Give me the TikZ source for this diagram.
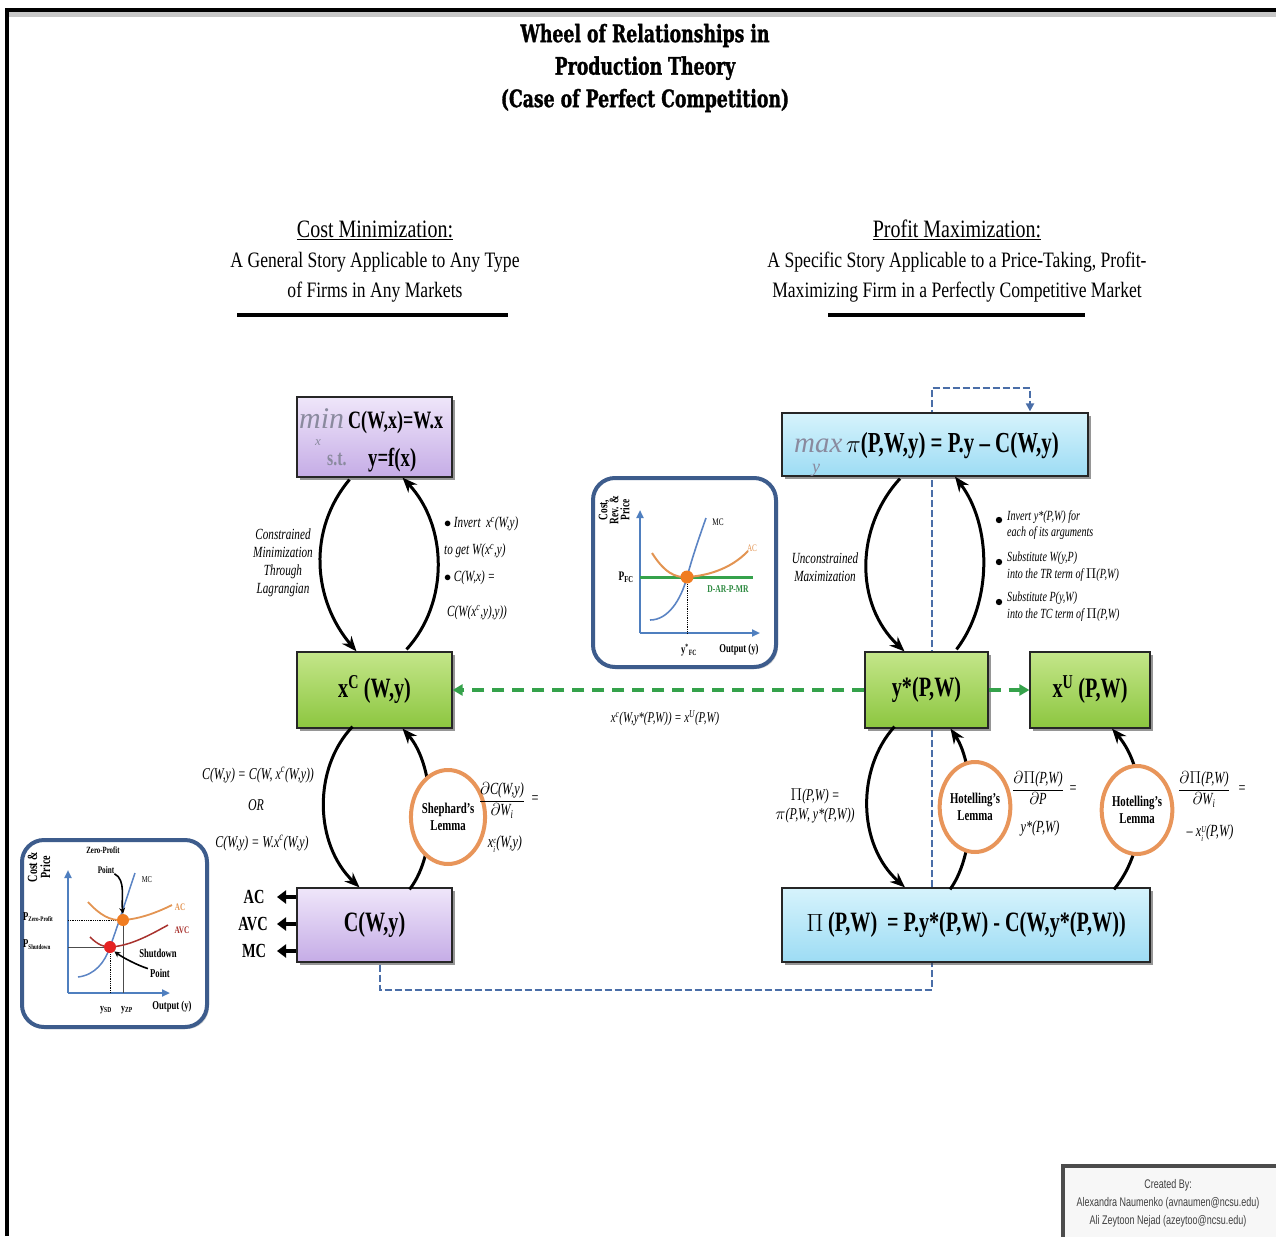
\documentclass[tikz,border=0pt]{standalone}
\usepackage{fontspec}
\setmainfont[FakeStretch=0.72]{Liberation Serif}
\newfontfamily\hdrfont[FakeStretch=0.8]{Liberation Serif}
\newfontfamily\opfont{Liberation Serif}
\newfontfamily\ttlfont[FakeStretch=0.72,FakeBold=1.2]{DejaVu Serif}
\newfontfamily\credfont[FakeStretch=0.72]{Liberation Sans}
\usetikzlibrary{arrows.meta,shapes.geometric,shadows,calc}

\definecolor{lavT}{HTML}{EFE6FA}
\definecolor{lavB}{HTML}{C5ACE6}
\definecolor{grnT}{HTML}{C4E68A}
\definecolor{grnB}{HTML}{8CC63F}
\definecolor{bluT}{HTML}{D6F3FC}
\definecolor{bluB}{HTML}{9DDCF4}
\definecolor{lemmaC}{HTML}{E8955A}
\definecolor{insetC}{HTML}{3D5C8C}
\definecolor{axisC}{HTML}{4F7FBF}
\definecolor{gdashC}{HTML}{35A24B}
\definecolor{bdashC}{HTML}{4A6EA8}
\definecolor{opC}{HTML}{8A8A9E}
\definecolor{acC}{HTML}{E39452}
\definecolor{avcC}{HTML}{A8322E}
\definecolor{dotO}{HTML}{F07D22}
\definecolor{dotR}{HTML}{E52222}
\definecolor{mcC}{HTML}{5B84C4}

\pgfdeclarelayer{back}
\pgfsetlayers{back,main}

% stacked superscript over subscript
\newcommand\supsub[2]{\raisebox{-0.2ex}{\fontsize{9}{8}\selectfont\setlength{\tabcolsep}{0pt}\begin{tabular}{l}#1\\#2\end{tabular}}}
\newcommand\fsz[1]{\fontsize{#1}{#1}\selectfont}

\begin{document}
\begin{tikzpicture}[x=1pt,y=-1pt,
  box/.style={draw=black!85, line width=1.2pt, inner sep=2pt, align=center,
    font=\bfseries\fontsize{28}{32}\selectfont,
    drop shadow={shadow xshift=3pt, shadow yshift=-3pt, opacity=.55, fill=black!75}},
  lavbox/.style={box, top color=lavT, bottom color=lavB},
  grnbox/.style={box, top color=grnT, bottom color=grnB},
  blubox/.style={box, top color=bluT, bottom color=bluB},
  wheel/.style={line width=3pt, -{Stealth[length=15pt,width=12pt]}},
  lemma/.style={ellipse, draw=lemmaC, line width=4pt, fill=white, inner sep=0pt,
    minimum width=62pt, minimum height=94pt, align=center,
    font=\bfseries\fontsize{15}{17}\selectfont},
  lbl/.style={font=\itshape\fontsize{15}{19}\selectfont, align=center, inner sep=1pt},
  clbl/.style={font=\itshape\fontsize{16.5}{19}\selectfont, align=center, inner sep=1pt},
  frl/.style={font=\itshape\fontsize{17}{21}\selectfont, align=center, inner sep=1pt},
  slbl/.style={font=\itshape\fontsize{15.5}{18}\selectfont, align=center, inner sep=1pt},
  blbl/.style={font=\itshape\fontsize{14}{16.5}\selectfont, align=left, inner sep=1pt},
  hdr/.style={font=\hdrfont\fontsize{22}{30}\selectfont, align=center},
  hdrrule/.style={line width=4pt, draw=black},
  insetbox/.style={draw=insetC, line width=4pt, rounded corners=22pt, fill=white,
    drop shadow={shadow xshift=2pt, shadow yshift=-2pt, opacity=.3, fill=black!60}},
  axisarrow/.style={draw=axisC, line width=2pt, -{Triangle[length=8pt,width=7pt]}},
  gl/.style={font=\bfseries\fontsize{10}{11}\selectfont, inner sep=0pt, align=center},
  fatarrow/.style={line width=4pt, -{Triangle[length=9pt,width=13pt]}},
  greendash/.style={draw=gdashC, line width=3.5pt, dash pattern=on 12pt off 8pt,
    -{Triangle[length=10pt,width=11pt]}},
  bluedash/.style={draw=bdashC, line width=2.5pt, dash pattern=on 7pt off 3pt}]

\useasboundingbox (0,0) rectangle (1276,1236);

% page frame
\fill[black!22] (9,12) rectangle (1276,17);
\draw[line width=4pt] (7,1236) -- (7,10) -- (1276,10);

% title
\node[font=\ttlfont\bfseries\fontsize{24}{32.5}\selectfont, align=center] (title) at (645,68)
  {Wheel of Relationships in\\Production Theory\\(Case of Perfect Competition)};

% section headings
\node[hdr] (cmHead) at (375,262) {{\fontsize{25}{30}\selectfont\underline{Cost Minimization:}}\\A General Story Applicable to Any Type\\of Firms in Any Markets};
\node[hdr] (pmHead) at (957,261) {{\fontsize{25}{30}\selectfont\underline{Profit Maximization:}}\\A Specific Story Applicable to a Price-Taking, Profit-\\Maximizing Firm in a Perfectly Competitive Market};
\draw[hdrrule] (237,315) -- (508,315);
\draw[hdrrule] (828,315) -- (1085,315);

% boxes
\node[lavbox, minimum width=155pt, minimum height=80pt] (minb) at (374.5,437) {};
\node[grnbox, minimum width=155pt, minimum height=76pt] (xc) at (374.5,690) {x\textsuperscript{C} (W,y)};
\node[lavbox, minimum width=155pt, minimum height=74pt] (cb) at (374.5,925) {C(W,y)};
\node[blubox, minimum width=306pt, minimum height=63pt] (maxb) at (935,444.5) {};
\node[grnbox, minimum width=123pt, minimum height=76pt] (ys) at (926.5,690) {y*(P,W)};
\node[grnbox, minimum width=120pt, minimum height=76pt] (xu) at (1090,690) {x\textsuperscript{U} (P,W)};
\node[blubox, minimum width=368pt, minimum height=74pt] (pib) at (966,925) {$\Pi$\,(P,W)\, = P.y*(P,W) - C(W,y*(P,W))};

% the two optimisation problems
\node[inner sep=0pt, anchor=base west, text depth=0pt] (minop) at (299,428) {\textcolor{opC}{\opfont\itshape\fsz{30}min}};
\node[inner sep=0pt, anchor=base west, font=\bfseries\fsz{25}] (minobj) at (348,428) {C(W,x)=W.x};
\node[inner sep=0pt, font=\opfont\itshape\fsz{13}, text=opC] (minsub) at (318,443) {x};
\node[inner sep=0pt, anchor=base west, font=\bfseries\fsz{22}, text=opC] (minst) at (327,465) {s.t.};
\node[inner sep=0pt, anchor=base west, font=\bfseries\fsz{26}] (minc) at (368,466) {y=f(x)};

\node[inner sep=0pt, anchor=base west, text depth=0pt] (maxop) at (794,452) {\textcolor{opC}{\opfont\itshape\fsz{29}max}};
\node[inner sep=0pt, anchor=base west, font=\bfseries\fsz{29}] (maxobj) at (846,452) {$\pi$(P,W,y) = P.y -- C(W,y)};
\node[inner sep=0pt, font=\opfont\itshape\fsz{18}, text=opC] (maxsub) at (816,470) {y};

% dashed blue feedback path, running behind the boxes
\coordinate (bendA) at (932,990);
\coordinate (bendB) at (932,388);
\begin{pgfonlayer}{back}
\draw[bluedash, -{Triangle[length=8pt,width=8pt]}] ($(cb.south)+(5.5,2)$) |- (bendA) -- (bendB) -| ($(maxb.north)+(95,-1)$);
\end{pgfonlayer}

% green dashed links
\draw[greendash] (ys.west) -- (xc.east);
\draw[greendash] (ys.east) -- (xu.west);
\node[lbl] (eqlink) at (665,718) {x\textsuperscript{c}(W,y*(P,W)) = x\textsuperscript{U}(P,W)};

% cost-minimisation wheel
\draw[wheel] ($(minb.south)+(-25,2)$) .. controls +(-42,50) and +(-44,-52) .. ($(xc.north)+(-18,0)$);
\draw[wheel] ($(xc.north)+(32,-2)$) .. controls +(43,-47) and +(45,48) .. ($(minb.south)+(28,0)$);
\draw[wheel] ($(xc.south)+(-22,-2)$) .. controls +(-40,42) and +(-45,-43) .. ($(cb.north)+(-15,0)$);
\draw[wheel] ($(cb.north)+(35,2)$) .. controls +(30,-38) and +(33,37) .. ($(xc.south)+(28,0)$);
\node[lemma] (shep) at (448,817) {Shephard's\\Lemma};

\node[slbl] (cmlab) at (283,563) {Constrained\\Minimization\\Through\\Lagrangian};
\node[lbl, align=left, anchor=north west, font=\itshape\fontsize{15.5}{27}\selectfont] (invlab) at (443,516)
  {$\bullet$\,Invert\, x\textsuperscript{c}(W,y)\\to get W(x\textsuperscript{c},y)\\$\bullet$\,C(W,x) =};
\node[lbl, anchor=base west, font=\itshape\fontsize{15.5}{19}\selectfont] (invlab2) at (446,616) {C(W(x\textsuperscript{c},y),y))};

\node[clbl] (cwy1) at (258,775) {C(W,y) = C(W, x\textsuperscript{c}(W,y))};
\node[clbl] (cwyor) at (256,805) {OR};
\node[clbl] (cwy2) at (262,843) {C(W,y) = W.x\textsuperscript{c}(W,y)};
\node[frl] (shfrac) at (502,801) {\setlength{\tabcolsep}{0pt}\begin{tabular}{c}$\partial$C(W,y)\\\hline$\partial$W\textsubscript{i}\end{tabular}};
\node[frl] (sheq) at (535,800) {=};
\node[frl] (shval) at (505,845) {x\supsub{c}{i}(W,y)};

% AC, AVC, MC from the cost function
\node[font=\bfseries\fsz{20}, inner sep=0pt] (lac) at (254,897) {AC};
\node[font=\bfseries\fsz{20}, inner sep=0pt] (lavc) at (253,924) {AVC};
\node[font=\bfseries\fsz{20}, inner sep=0pt] (lmc) at (254,951) {MC};
\draw[fatarrow] (cb.west |- lac) -- ($(lac.center)+(23,0)$);
\draw[fatarrow] (cb.west |- lavc) -- ($(lavc.center)+(24,0)$);
\draw[fatarrow] (cb.west |- lmc) -- ($(lmc.center)+(23,0)$);

% profit-maximisation wheel
\draw[wheel] ($(maxb.south)+(-35,2)$) .. controls +(-45,49) and +(-50,-47) .. ($(ys.north)+(-22,0)$);
\draw[wheel] ($(ys.north)+(30,-2)$) .. controls +(36,-47) and +(37,49) .. ($(maxb.south)+(20,0)$);
\draw[wheel] ($(ys.south)+(-32,-2)$) .. controls +(-38,42) and +(-48,-43) .. ($(pib.north)+(-61,0)$);
\draw[wheel] ($(pib.north)+(-16,2)$) .. controls +(28,-38) and +(25,37) .. ($(ys.south)+(24,0)$);
\draw[wheel] ($(pib.north)+(148,2)$) .. controls +(36,-43) and +(36,42) .. ($(xu.south)+(22,0)$);
\node[lemma, minimum height=90pt] (hot1) at (975,807) {Hotelling's\\Lemma};
\node[lemma, minimum height=88pt] (hot2) at (1137,810) {Hotelling's\\Lemma};

\node[slbl] (umlab) at (825,567) {Unconstrained\\Maximization};
\node[blbl, anchor=north west] (bul1) at (1006,509) {Invert y*(P,W) for\\each of its arguments};
\node[blbl, anchor=north west] (bul2) at (1006,551) {Substitute W(y,P)\\into the TR term of $\Pi$(P,W)};
\node[blbl, anchor=north west] (bul3) at (1006,591) {Substitute P(y,W)\\into the TC term of $\Pi$(P,W)};
\fill (999,520) circle (3.2pt);
\fill (999,562) circle (3.2pt);
\fill (999,602) circle (3.2pt);

\node[clbl] (pilab) at (815,806) {$\Pi$(P,W) =\\$\pi$(P,W, y*(P,W))};
\node[frl] (h1frac) at (1038,790) {\setlength{\tabcolsep}{0pt}\begin{tabular}{c}$\partial\Pi$(P,W)\\\hline$\partial$P\end{tabular}};
\node[frl] (h1eq) at (1073,790) {=};
\node[frl] (h1val) at (1040,828) {y*(P,W)};
\node[frl] (h2frac) at (1204,790) {\setlength{\tabcolsep}{0pt}\begin{tabular}{c}$\partial\Pi$(P,W)\\\hline$\partial$W\textsubscript{i}\end{tabular}};
\node[frl] (h2eq) at (1242,790) {=};
\node[frl] (h2val) at (1210,834) {-- x\supsub{U}{i}(P,W)};

% inset: perfectly competitive firm
\node[insetbox, minimum width=183pt, minimum height=189pt] (gfc) at (684.5,572.5) {};
\draw[axisarrow] (640,633) -- (640,510);
\draw[axisarrow] (640,633) -- (760,633);
\draw[draw=gdashC, line width=3pt] (640,577) -- (753,577);
\draw[densely dotted, line width=.8pt] (687,577) -- (687,633);
\draw[draw=mcC, line width=1.6pt] (650,620) .. controls (668,620) and (681,600) .. (687,577) .. controls (693,555) and (700,535) .. (706,518);
\draw[draw=acC, line width=2pt] (652,553) .. controls (664,572) and (675,578) .. (687,577) .. controls (705,576) and (730,570) .. (748,551);
\node[circle, fill=dotO, minimum size=13pt, inner sep=0pt] (fcdot) at (687,577) {};
\node[gl, rotate=90, font=\bfseries\fontsize{13}{11}\selectfont] (g1ylab) at (614,510) {Cost,\\Rev. \&\\Price};
\node[gl, font=\fsz{10}] (g1mc) at (718,522) {MC};
\node[gl, font=\fsz{10}, text=acC] (g1ac) at (752,548) {AC};
\node[gl, font=\bfseries\fsz{13}] (g1p) at (626,577) {P\textsubscript{FC}};
\node[gl, font=\bfseries\fsz{10.5}, text=gdashC!85!black] (g1d) at (728,589) {D-AR-P-MR};
\node[gl, font=\bfseries\fsz{12}] (g1yfc) at (689,650) {y\textsuperscript{*}\textsubscript{FC}};
\node[gl, font=\bfseries\fsz{12}] (g1out) at (739,650) {Output (y)};

% inset: zero-profit and shutdown points
\node[insetbox, minimum width=185pt, minimum height=187pt] (gsd) at (114.5,933.5) {};
\draw[axisarrow] (68,993) -- (68,870);
\draw[axisarrow] (68,993) -- (170,993);
\draw[densely dotted, line width=.8pt] (68,920) -- (123,920);
\draw[line width=.6pt, black!70] (68,947) -- (110,947);
\draw[densely dotted, line width=.8pt] (110,947) -- (110,993);
\draw[line width=.6pt, black!70] (123,920) -- (123,993);
\draw[draw=mcC, line width=1.5pt] (78,977) .. controls (95,975) and (105,962) .. (110,947) .. controls (118,925) and (126,900) .. (135,873);
\draw[draw=acC, line width=1.8pt] (88,902) .. controls (100,915) and (110,921) .. (123,920) .. controls (140,919) and (158,912) .. (172,905);
\draw[draw=avcC, line width=1.5pt] (90,937) .. controls (98,945) and (104,947) .. (110,947) .. controls (130,946) and (150,935) .. (168,925);
\node[circle, fill=dotO, minimum size=12pt, inner sep=0pt] (zpdot) at (123,920) {};
\node[circle, fill=dotR, minimum size=12pt, inner sep=0pt] (sddot) at (110,947) {};
\node[gl, rotate=90, font=\bfseries\fontsize{14}{13}\selectfont] (g2ylab) at (39,867) {Cost \&\\Price};
\node[gl, font=\bfseries\fsz{9.5}] (g2zp) at (103,850) {Zero-Profit};
\node[gl, font=\bfseries\fsz{10}] (g2pt) at (106,870) {Point};
\draw[line width=1.6pt, -{Stealth[length=6pt,width=6pt]}] (g2pt.south east) .. controls +(12,6) and +(-2,-14) .. (zpdot.north);
\node[gl, font=\fsz{9}] (g2mc) at (147,880) {MC};
\node[gl, font=\bfseries\fsz{10}, text=acC] (g2ac) at (180,907) {AC};
\node[gl, font=\bfseries\fsz{10}, text=avcC] (g2avc) at (182,930) {AVC};
\node[gl, font=\bfseries\fsz{12}, anchor=west] (g2pzp) at (23,917) {P\textsubscript{\fsz{7}Zero-Profit}};
\node[gl, font=\bfseries\fsz{12}, anchor=west] (g2psd) at (23,945) {P\textsubscript{\fsz{7}Shutdown}};
\node[gl, font=\bfseries\fsz{12}] (g2sd) at (158,953) {Shutdown};
\node[gl, font=\bfseries\fsz{12}] (g2sdp) at (160,973) {Point};
\draw[line width=1.6pt, -{Stealth[length=6pt,width=6pt]}] ($(g2sdp.north west)+(-2,0)$) .. controls +(-10,-3) and +(8,6) .. (sddot.south east);
\node[gl, font=\bfseries\fsz{11}] (g2ysd) at (106,1010) {y\textsubscript{SD}};
\node[gl, font=\bfseries\fsz{11}] (g2yzp) at (127,1010) {y\textsubscript{ZP}};
\node[gl, font=\bfseries\fsz{12}] (g2out) at (172,1007) {Output (y)};

% credits
\draw[draw=black!70, line width=3.5pt, fill=black!3] (1063,1166) rectangle (1290,1250);
\node[font=\credfont\fontsize{12.5}{18}\selectfont, text=black!75, align=center] (cred) at (1168,1203)
  {Created By:\\Alexandra Naumenko (avnaumen@ncsu.edu)\\Ali Zeytoon Nejad (azeytoo@ncsu.edu)};
\end{tikzpicture}
\end{document}
